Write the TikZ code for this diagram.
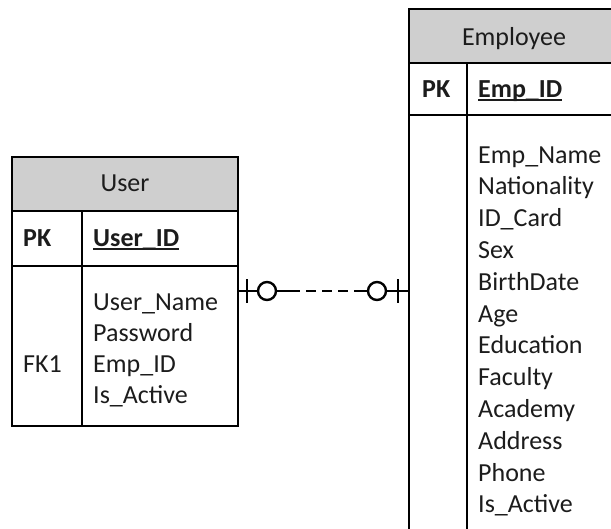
\documentclass[tikz,border=0pt]{standalone}
\usepackage{fontspec}
\setmainfont{Carlito}
\definecolor{hdrgray}{RGB}{207,207,207}
\definecolor{inkgray}{RGB}{28,28,28}
\tikzset{
  x=1pt, y=-1pt,
  tbl/.style={draw=black, line width=1.8pt, anchor=north west, inner sep=0pt, outer sep=0pt},
  hdr/.style={tbl, fill=hdrgray},
  rule/.style={draw=black, line width=1.8pt},
  txt/.style={font=\fontsize{26}{31.5}\selectfont, text=inkgray, inner sep=0pt, anchor=base west},
  keytxt/.style={txt, font=\fontsize{26}{31.5}\selectfont\bfseries},
  uline/.style={draw=inkgray, line width=1.4pt},
  conn/.style={draw=black, line width=2.4pt},
}
\begin{document}
\begin{tikzpicture}
\useasboundingbox (0,0) rectangle (611,528);
\clip (0,0) rectangle (611,528);

% ---- User entity ----
\node[hdr, minimum width=226pt, minimum height=54pt] (userhdr) at (12,157) {};
\node[tbl, minimum width=226pt, minimum height=55pt] (userpk) at (12,211) {};
\node[tbl, minimum width=226pt, minimum height=160pt] (userbody) at (12,266) {};
\draw[rule] ([xshift=70pt]userpk.north west) -- ([xshift=70pt]userbody.south west);

\node[txt, anchor=base] (usertitle) at (125,191) {User};
\node[keytxt] (userpkl) at (23,246) {PK};
\node[keytxt] (userid) at (93,246) {User\_ID};
\draw[uline] ([yshift=-3pt]userid.base west) -- ([yshift=-3pt]userid.base east);
\node[txt] (userfk) at (23,372) {FK1};
\foreach \t [count=\i] in {User\_Name, Password, Emp\_ID, Is\_Active}
  \node[txt] (uf\i) at (93,279+31*\i) {\t};

% ---- Employee entity ----
\node[hdr, minimum width=210pt, minimum height=54pt] (emphdr) at (409,9) {};
\node[tbl, minimum width=210pt, minimum height=52pt] (emppk) at (409,63) {};
\node[tbl, minimum width=210pt, minimum height=430pt] (empbody) at (409,115) {};
\draw[rule] ([xshift=58pt]emppk.north west) -- ([xshift=58pt]empbody.south west);

\node[txt, anchor=base] (emptitle) at (514,45) {Employee};
\node[keytxt] (emppkl) at (422,97) {PK};
\node[keytxt] (empid) at (478,97) {Emp\_ID};
\draw[uline] ([yshift=-3pt]empid.base west) -- ([yshift=-3pt]empid.base east);
\foreach \t [count=\i] in {Emp\_Name, Nationality, ID\_Card, Sex, BirthDate, Age,
    Education, Faculty, Academy, Address, Phone, Is\_Active}
  \node[txt] (ef\i) at (478,131.2+31.8*\i) {\t};

% ---- one-to-one (zero or one) relationship ----
\coordinate (ua) at ([yshift=-25pt]userbody.north east);
\coordinate (eb) at ([yshift=-176pt]empbody.north west);

\draw[conn] (ua) -- ([xshift=20pt]ua);
\draw[conn] ([xshift=9pt,yshift=12pt]ua) -- ([xshift=9pt,yshift=-12pt]ua);
\draw[conn] ([xshift=29pt]ua) circle (9pt);
\draw[conn] ([xshift=38pt]ua) -- ([xshift=52pt]ua);
\draw[conn, dash pattern=on 10pt off 6pt] ([xshift=52pt]ua) -- ([xshift=-50pt]eb);
\draw[conn] ([xshift=-50pt]eb) -- ([xshift=-41pt]eb);
\draw[conn] ([xshift=-32pt]eb) circle (9pt);
\draw[conn] ([xshift=-23pt]eb) -- (eb);
\draw[conn] ([xshift=-11pt,yshift=12pt]eb) -- ([xshift=-11pt,yshift=-12pt]eb);
\end{tikzpicture}
\end{document}
